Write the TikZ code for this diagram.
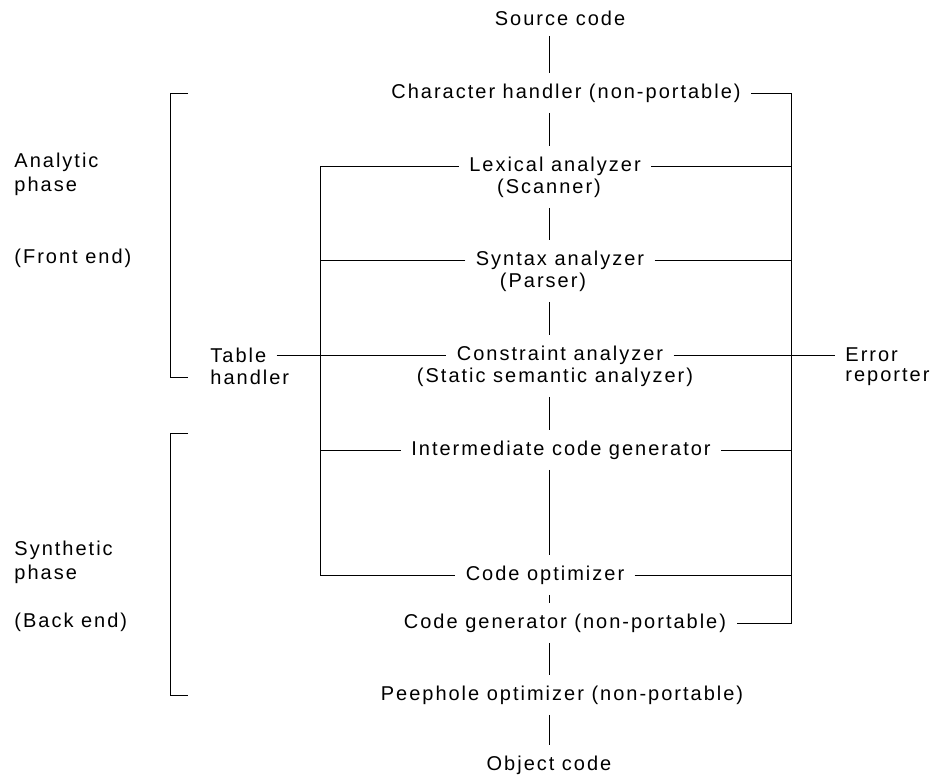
\documentclass[tikz,border=0pt]{standalone}
\usepackage{fontspec}
\setmainfont{Liberation Sans}[LetterSpace=10]
\usepackage{tikz}

\begin{document}
\begin{tikzpicture}[x=0.5pt,y=-0.5pt,line width=0.45pt,
    lbl/.style={inner sep=5pt,font=\fontsize{10}{12}\selectfont},
    side/.style={lbl,anchor=west,align=left}]
  \useasboundingbox (0,0) rectangle (936,775);
  \coordinate (spine) at (549,0);
  \coordinate (tabx) at (320,0);
  \coordinate (errx) at (791,0);
  % phases
  \node[lbl] (src) at (560,18) {Source code};
  \node[lbl] (char) at (566,93) {Character handler (non-portable)};
  \node[lbl] (lex) at (555,166) {Lexical analyzer};
  \node[lbl] (lexsub) at (549,188) {(Scanner)};
  \node[lbl] (syn) at (560,260) {Syntax analyzer};
  \node[lbl] (synsub) at (543,282) {(Parser)};
  \node[lbl] (con) at (560,355) {Constraint analyzer};
  \node[lbl] (consub) at (555,377) {(Static semantic analyzer)};
  \node[lbl] (mid) at (561,450) {Intermediate code generator};
  \node[lbl] (copt) at (545,575) {Code optimizer};
  \node[lbl] (cgen) at (565,623) {Code generator (non-portable)};
  \node[lbl] (peep) at (562,695) {Peephole optimizer (non-portable)};
  \node[lbl] (obj) at (549,765) {Object code};
  \node[side] (tab) at (200,355) {Table};
  \node[side] (tabsub) at (200,377) {handler};
  \node[side] (err) at (835,355) {Error};
  \node[side] (errsub) at (835,377) {reporter};
  \node[side] (ana) at (4,174) {Analytic\\phase};
  \node[side] (front) at (4,258) {(Front end)};
  \node[side] (syt) at (4,562) {Synthetic\\phase};
  \node[side] (back) at (4,622) {(Back end)};
  % main chain
  \foreach \a/\b in {src/char,char/lex,lexsub/syn,synsub/con,consub/mid,mid/copt,copt/cgen,cgen/peep,peep/obj}
    \draw (\a.south -| spine) -- (\b.north -| spine);
  % table handler
  \draw (lex.west) -- (lex.west -| tabx) -- (copt.west -| tabx) -- (copt.west);
  \foreach \n in {syn,mid}
    \draw (\n.west) -- (\n.west -| tabx);
  \draw (tab.east) -- (con.west);
  % error reporter
  \draw (char.east) -- (char.east -| errx) -- (cgen.east -| errx) -- (cgen.east);
  \foreach \n in {lex,syn,mid,copt}
    \draw (\n.east) -- (\n.east -| errx);
  \draw (con.east) -- (err.west);
  % brackets
  \draw (188,93) -- (170,93) -- (170,377) -- (188,377);
  \draw (188,433) -- (170,433) -- (170,695) -- (188,695);
\end{tikzpicture}
\end{document}
